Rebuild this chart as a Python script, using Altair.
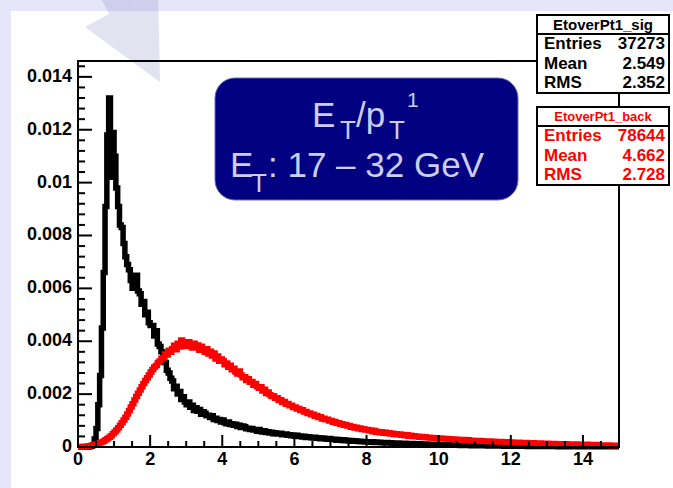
import altair as alt
import numpy as np
import pandas as pd

# ---------------------------------------------------------------------------
# Histogram contents (bin width 0.05, bins 0.00-0.05 ... 14.95-15.00)
# ---------------------------------------------------------------------------
BIN_WIDTH = 0.05

sig_values = [
    0, 0, 0, 0, 0, 0,
    0.00001, 0.00003, 0.00008, 0.0003, 0.0007, 0.0016, 0.0027, 0.0045,
    0.0066, 0.0091, 0.0118, 0.0132, 0.0102, 0.0119, 0.0110, 0.0098,
    0.0091, 0.0084, 0.0083, 0.0077, 0.0072, 0.0069, 0.0067, 0.0063,
    0.0060, 0.0062, 0.0065, 0.0059, 0.0058, 0.0054, 0.0055, 0.0050,
    0.0051, 0.0047, 0.0046, 0.0046, 0.0042, 0.0044, 0.0039, 0.0038,
    0.0036, 0.0033, 0.0032, 0.0029, 0.0028, 0.0026, 0.0025, 0.0022,
    0.0023, 0.0020, 0.0021, 0.0018, 0.0019, 0.0017, 0.0016, 0.0017,
    0.0015, 0.00158, 0.00138, 0.00148, 0.00135, 0.00142, 0.00124, 0.00133,
    0.00128, 0.00118, 0.0012, 0.00112, 0.00118, 0.00104, 0.00109, 0.001,
    0.00104, 0.00095, 0.00102, 0.00092, 0.00088, 0.00095, 0.00085, 0.00088,
    0.00082, 0.00086, 0.00078, 0.00082, 0.00074, 0.00079, 0.00077, 0.00069,
    0.00071, 0.00066, 0.0007, 0.00064, 0.00066, 0.0006, 0.00066, 0.00059,
    0.00057, 0.00061, 0.00055, 0.00058, 0.00053, 0.00056, 0.0005, 0.00054,
    0.00049, 0.00051, 0.00052, 0.00046, 0.00047, 0.00049, 0.00044, 0.00046,
    0.00043, 0.00045, 0.00041, 0.00044, 0.0004, 0.00042, 0.00038, 0.00041,
    0.00036, 0.00039, 0.00038, 0.00035, 0.00034, 0.00037, 0.00033, 0.00035,
    0.00031, 0.00034, 0.00033, 0.0003, 0.00029, 0.00032, 0.0003, 0.00028,
    0.00029, 0.00026, 0.00028, 0.00026, 0.00025, 0.00027, 0.00024, 0.00026,
    0.00023, 0.00025, 0.00022, 0.00024, 0.00023, 0.00021, 0.00022, 0.0002,
    0.00021, 0.00019,
    0.0002, 0.00019, 0.00018, 0.0002, 0.00017, 0.00019, 0.00017, 0.00018, 0.00016, 0.00017,
    0.00015, 0.00017, 0.00015, 0.00016, 0.00014, 0.00015, 0.00014, 0.00015, 0.00013, 0.00014,
    0.00013, 0.00014, 0.00012, 0.00013, 0.00012, 0.00013, 0.00011, 0.00012, 0.00011, 0.00012,
    0.0001, 0.00011, 0.0001, 0.00011, 0.0001, 0.00009, 0.0001, 0.00009, 0.0001, 0.00009,
    0.00009, 0.00008, 0.00009, 0.00008, 0.00008, 0.00009, 0.00007, 0.00008, 0.00007, 0.00008,
    0.00007, 0.00007, 0.00006, 0.00007, 0.00006, 0.00007, 0.00006, 0.00006, 0.00005, 0.00006,
    0.00006, 0.00005, 0.00006, 0.00005, 0.00005, 0.00006, 0.00005, 0.00004, 0.00005, 0.00004,
    0.00005, 0.00004, 0.00004, 0.00005, 0.00004, 0.00004, 0.00003, 0.00004, 0.00004, 0.00003,
    0.00004, 0.00003, 0.00004, 0.00003, 0.00003, 0.00004, 0.00003, 0.00003, 0.00003, 0.00002,
    0.00003, 0.00003, 0.00002, 0.00003, 0.00003, 0.00002, 0.00003, 0.00002, 0.00002, 0.00003,
    0.00002, 0.00002, 0.00003, 0.00002, 0.00002, 0.00002, 0.00001, 0.00002, 0.00002, 0.00002,
    0.00001, 0.00002, 0.00002, 0.00001, 0.00002, 0.00002, 0.00001, 0.00002, 0.00001, 0.00002,
    0.00001, 0.00002, 0.00001, 0.00001, 0.00002, 0.00001, 0.00001, 0.00001, 0.00002, 0.00001,
    0.00001, 0.00001, 0.00001, 0.00002, 0.00001, 0.00001, 0.00001, 0.00001, 0.00001, 0.00001,
]

back_values = [
    0.00002, 0.00002, 0.00002, 0.00003, 0.00003, 0.00004, 0.00005, 0.00006, 0.00007, 0.00009,
    0.00011, 0.00013, 0.00016, 0.00019, 0.00023, 0.00027, 0.00032, 0.00037, 0.00043, 0.0005,
    0.00057, 0.00064, 0.00073, 0.00082, 0.00092, 0.00102, 0.00113, 0.00125, 0.00138, 0.00151,
    0.00164, 0.00178, 0.00191, 0.00203, 0.00216, 0.00228, 0.0024, 0.00252, 0.00262, 0.00272,
    0.00284, 0.00293, 0.00303, 0.00308, 0.0032, 0.00325, 0.00336, 0.00338, 0.00352, 0.00348,
    0.00366, 0.00358, 0.00372, 0.00385, 0.00368, 0.00392, 0.00378, 0.00405, 0.00383, 0.00394,
    0.0038, 0.00398, 0.00382, 0.00374, 0.00392, 0.00378, 0.00386, 0.00366, 0.00381, 0.0037,
    0.00358, 0.00372, 0.00352, 0.00362, 0.00344, 0.00356, 0.00333, 0.00344, 0.00324, 0.00333,
    0.00326, 0.00311, 0.00318, 0.00302, 0.00309, 0.00292, 0.00298, 0.00284, 0.00276, 0.00287,
    0.00272, 0.00262, 0.00266, 0.00252, 0.00258, 0.00245, 0.00248, 0.00234, 0.0024, 0.00228,
    0.00222, 0.00228, 0.00212, 0.00218, 0.00202, 0.00208, 0.00198, 0.00191, 0.00194, 0.00184,
    0.00186, 0.00176, 0.00179, 0.00168, 0.00172, 0.00162, 0.00165, 0.00156, 0.00158, 0.00149,
    0.00151, 0.00144, 0.00146, 0.00138, 0.00141, 0.00132, 0.00134, 0.00127, 0.00129, 0.00122,
    0.00124, 0.00116, 0.00119, 0.00112, 0.00114, 0.00106, 0.00109, 0.00103, 0.00105, 0.00098,
    0.001, 0.00094, 0.00096, 0.0009, 0.00092, 0.00086, 0.00088, 0.00082, 0.00085, 0.00079,
    0.00081, 0.00075, 0.00078, 0.00072, 0.00075, 0.00069, 0.00072, 0.00066, 0.00069, 0.00064,
    0.00066, 0.00061, 0.00064, 0.00058, 0.00062, 0.00056, 0.00059, 0.00054, 0.00058, 0.00052,
    0.00056, 0.00051, 0.00054, 0.00049, 0.00052, 0.00047, 0.0005, 0.00046, 0.00049, 0.00044,
    0.00047, 0.00043, 0.00046, 0.00041, 0.00044, 0.0004, 0.00043, 0.00039, 0.00041, 0.00037,
    0.0004, 0.00036, 0.00039, 0.00035, 0.00037, 0.00034, 0.00036, 0.00033, 0.00035, 0.00032,
    0.00034, 0.00031, 0.00033, 0.0003, 0.00032, 0.00029, 0.00031, 0.00028, 0.0003, 0.00027,
    0.00029, 0.00027, 0.00028, 0.00026, 0.00028, 0.00025, 0.00027, 0.00024, 0.00026, 0.00024,
    0.00025, 0.00023, 0.00025, 0.00022, 0.00024, 0.00022, 0.00023, 0.00021, 0.00023, 0.0002,
    0.00022, 0.0002, 0.00021, 0.00019, 0.00021, 0.00019, 0.0002, 0.00018, 0.0002, 0.00018,
    0.00019, 0.00017, 0.00018, 0.00016, 0.00018, 0.00016, 0.00017, 0.00015, 0.00017, 0.00015,
    0.00016, 0.00015, 0.00016, 0.00014, 0.00015, 0.00014, 0.00015, 0.00013, 0.00014, 0.00013,
    0.00014, 0.00012, 0.00013, 0.00012, 0.00013, 0.00011, 0.00012, 0.00011, 0.00012, 0.00011,
    0.00012, 0.0001, 0.00011, 0.0001, 0.00011, 0.0001, 0.00011, 0.00009, 0.0001, 0.00009,
    0.0001, 0.00009, 0.0001, 0.00008, 0.00009, 0.00008, 0.00009, 0.00008, 0.00009, 0.00007,
    0.00008, 0.00007, 0.00008, 0.00007, 0.00008, 0.00006, 0.00007, 0.00006, 0.00007, 0.00006,
]

# Axis tick positions and labels
x_major = [0, 2, 4, 6, 8, 10, 12, 14]
x_labels = ["0", "2", "4", "6", "8", "10", "12", "14"]
y_major = [0, 0.002, 0.004, 0.006, 0.008, 0.01, 0.012, 0.014]
y_labels = ["0", "0.002", "0.004", "0.006", "0.008", "0.01", "0.012", "0.014"]
x_minor = [v for v in np.arange(0, 15.01, 0.5).round(2).tolist() if v not in x_major]
y_minor = [v for v in np.arange(0, 0.01441, 0.0004).round(4).tolist()
           if round(v / 0.002, 6) % 1 != 0]

# Statistics boxes
sig_name = "EtoverPt1_sig"
sig_stats = [("Entries", "37273"), ("Mean", "2.549"), ("RMS", "2.352")]
back_name = "EtoverPt1_back"
back_stats = [("Entries", "78644"), ("Mean", "4.662"), ("RMS", "2.728")]

# ---------------------------------------------------------------------------
W, H = 541, 386
X_MAX = 15.0
FONT = "Liberation Sans"
LAVENDER = "#e6e6fa"
TITLE_BG = "#000080"
TITLE_FG = "#ccccf5"


def hist_frame(values):
    # bin lower edges, plus the closing upper edge of the last bin
    edges = np.round(np.arange(len(values) + 1) * BIN_WIDTH, 3)
    vals = list(values) + [values[-1]]
    return pd.DataFrame({"edge": edges, "value": vals})


xscale = alt.Scale(domain=[0, X_MAX], nice=False, zero=False)
yscale = alt.Scale(domain=[0, 0.0146], nice=False)

one = alt.Data(values=[{"k": 0}])


def box(x0, x1, y0, y1, **kw):
    return alt.Chart(one).mark_rect(**kw).encode(
        x=alt.value(x0), x2=alt.value(x1), y=alt.value(y0), y2=alt.value(y1))


def hline(x0, x1, y, color="black", width=2):
    return alt.Chart(one).mark_rule(color=color, strokeWidth=width).encode(
        x=alt.value(x0), x2=alt.value(x1), y=alt.value(y))


def label(x, y, txt, size, color, align="left", weight="bold", baseline="middle"):
    return alt.Chart(one).mark_text(
        align=align, baseline=baseline, font=FONT, fontSize=size,
        fontWeight=weight, color=color).encode(
        x=alt.value(x), y=alt.value(y), text=alt.value(txt))


# white pad area
panel = box(-67, 620, -50, 440, fill="white", strokeWidth=0)

# slide arrow overlay
arrow_path = ("M17.1,-73.4 L31.2,-46.9 L7,-34 L82,21 L80,-73 "
              "L55.8,-60.1 L41.7,-86.6 Z")
arrow = alt.Chart(one).mark_point(
    shape=arrow_path, size=4, filled=True, color="#8c8cc8",
    opacity=0.25, strokeWidth=0).encode(x=alt.value(0), y=alt.value(0))


def hist_line(values, color):
    return alt.Chart(hist_frame(values)).mark_line(
        interpolate="step-after", color=color, strokeWidth=5.5,
        strokeJoin="miter").encode(
        x=alt.X("edge:Q", scale=xscale, axis=None),
        y=alt.Y("value:Q", scale=yscale, axis=None))


def xticks(vals, length):
    return alt.Chart(pd.DataFrame({"v": vals})).mark_rule(
        color="black", strokeWidth=2).encode(
        x=alt.X("v:Q", scale=xscale, axis=None),
        y=alt.value(H), y2=alt.value(H - length))


def yticks(vals, length):
    return alt.Chart(pd.DataFrame({"v": vals})).mark_rule(
        color="black", strokeWidth=2).encode(
        y=alt.Y("v:Q", scale=yscale, axis=None),
        x=alt.value(0), x2=alt.value(length))


x_text = alt.Chart(pd.DataFrame({"v": x_major, "t": x_labels})).mark_text(
    align="center", baseline="top", font=FONT, fontSize=18, fontWeight="bold",
    color="black").encode(
    x=alt.X("v:Q", scale=xscale, axis=None), y=alt.value(H + 4), text="t:N")

y_text = alt.Chart(pd.DataFrame({"v": y_major, "t": y_labels})).mark_text(
    align="right", baseline="middle", font=FONT, fontSize=18, fontWeight="bold",
    color="black").encode(
    y=alt.Y("v:Q", scale=yscale, axis=None), x=alt.value(-6), text="t:N")

frame = box(0, W, 0, H, filled=False, stroke="black", strokeWidth=2)

layers = [panel, arrow, hist_line(sig_values, "black"),
          hist_line(back_values, "#ff0000"),
          xticks(x_major, 12), xticks(x_minor, 6),
          yticks(y_major, 14), yticks(y_minor, 7), frame, x_text, y_text]

# statistics boxes
BX0, BX1 = 459, 591
for name, stats, col, top, tsize in [
        (sig_name, sig_stats, "black", -46, 15),
        (back_name, back_stats, "#ff0000", 46, 13)]:
    layers.append(box(BX0, BX1, top, top + 78, fill="white", stroke="black",
                      strokeWidth=2))
    layers.append(hline(BX0, BX1, top + 19))
    layers.append(label((BX0 + BX1) / 2, top + 10, name, tsize, col, align="center"))
    for i, (k, v) in enumerate(stats):
        yy = top + 29 + 19.5 * i
        layers.append(label(BX0 + 7, yy, k, 17, col))
        layers.append(label(BX1 - 4, yy, v, 17, col, align="right"))

# title box
layers.append(box(137, 440, 17, 139, fill=TITLE_BG, cornerRadius=20,
                  stroke="#6c6cb4", strokeWidth=1))
layers += [
    label(234, 66, "E", 35, TITLE_FG, weight="normal", baseline="alphabetic"),
    label(262, 78, "T", 26, TITLE_FG, weight="normal", baseline="alphabetic"),
    label(278, 66, "/p", 35, TITLE_FG, weight="normal", baseline="alphabetic"),
    label(311, 78, "T", 26, TITLE_FG, weight="normal", baseline="alphabetic"),
    label(329, 46, "1", 21, TITLE_FG, weight="normal", baseline="alphabetic"),
    label(152, 116, "E", 35, TITLE_FG, weight="normal", baseline="alphabetic"),
    label(173, 131, "T", 26, TITLE_FG, weight="normal", baseline="alphabetic"),
    label(190, 116, ": 17 \u2013 32 GeV", 35, TITLE_FG, weight="normal",
          baseline="alphabetic"),
]

chart = alt.layer(*layers).properties(
    width=W, height=H, background=LAVENDER,
    padding={"left": 78, "top": 61, "right": 54, "bottom": 41},
    autosize=alt.AutoSizeParams(type="none"),
).configure_view(strokeWidth=0)

chart.save("out.html", embed_options={"renderer": "svg", "actions": False})
